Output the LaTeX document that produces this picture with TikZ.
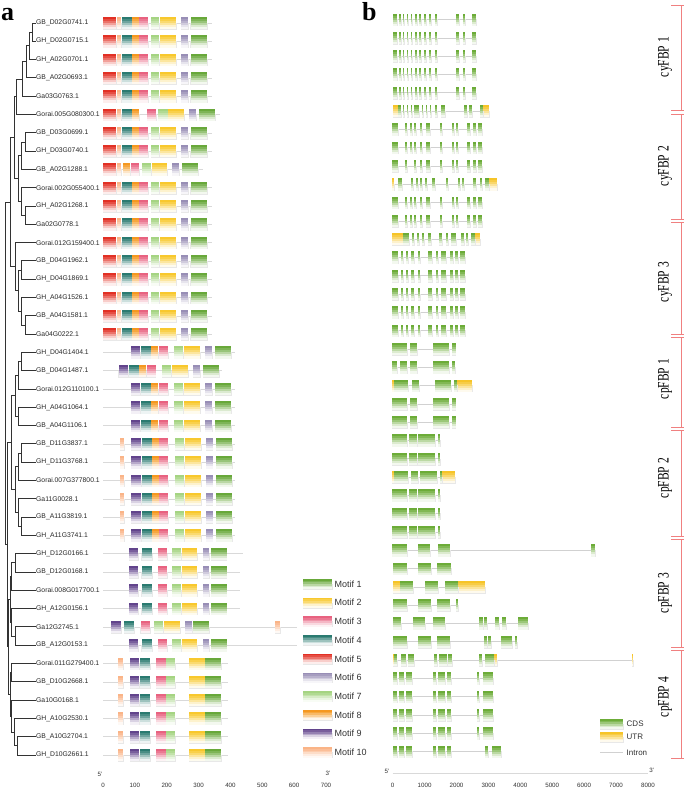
\documentclass[tikz,border=0pt]{standalone}
\usepackage{fontspec}
\setmainfont{Liberation Serif}
\setsansfont{Liberation Sans}
\usetikzlibrary{calc}
\definecolor{mgreen}{RGB}{104,168,58}
\definecolor{myellow}{RGB}{248,200,45}
\definecolor{mpink}{RGB}{232,98,128}
\definecolor{mteal}{RGB}{42,122,112}
\definecolor{mred}{RGB}{226,48,36}
\definecolor{mlav}{RGB}{152,142,182}
\definecolor{mlgreen}{RGB}{165,212,130}
\definecolor{morange}{RGB}{245,152,32}
\definecolor{mpurple}{RGB}{98,68,140}
\definecolor{mpeach}{RGB}{250,180,135}
\definecolor{cdsc}{RGB}{108,172,56}
\definecolor{utrc}{RGB}{246,196,40}
\definecolor{brk}{RGB}{240,128,128}

\newcommand\Ry[1]{(23+(#1-1)*18.3)}
% gradient block: x1, x2, ytop, height, colour
\newcommand\Grad[5]{\pgfmathsetmacro\gxa{#1}\pgfmathsetmacro\gxb{#2}\pgfmathsetmacro\gyt{#3}%
 \draw[blkedge] (\gxa,{\gyt+#4/2}) rectangle (\gxb,{\gyt+#4});%
 \foreach \gi/\gp in {0/100,1/86,2/68,3/46,4/24,5/8}{\fill[#5!\gp] (\gxa,{\gyt+\gi*#4/6}) rectangle (\gxb,{\gyt+(\gi+1)*#4/6+0.3});}}
\newcommand\Mblk[4]{\Grad{103+0.3186*#3}{103+0.3186*#4}{\Ry{#1}-6}{12}{#2}}
\newcommand\Mln[2]{\draw[rowline] (103,{\Ry{#1}}) -- ({103+0.3186*#2},{\Ry{#1}});}
\newcommand\RowA[1]{\Mln{#1}{341}\Mblk{#1}{mred}{0}{41}\Mblk{#1}{mpeach}{43}{58}\Mblk{#1}{mteal}{60}{90}\Mblk{#1}{morange}{91}{112}\Mblk{#1}{mpink}{113}{142}\Mblk{#1}{mlgreen}{150}{177}\Mblk{#1}{myellow}{179}{229}\Mblk{#1}{mlav}{245}{266}\Mblk{#1}{mgreen}{275}{327}}
\newcommand\RowB[1]{\Mln{#1}{414}\Mblk{#1}{mpurple}{87}{116}\Mblk{#1}{mteal}{119}{151}\Mblk{#1}{morange}{152}{174}\Mblk{#1}{mpink}{175}{203}\Mblk{#1}{mlgreen}{224}{252}\Mblk{#1}{myellow}{254}{304}\Mblk{#1}{mlav}{320}{342}\Mblk{#1}{mgreen}{351}{402}}
\newcommand\RowC[1]{\Mln{#1}{414}\Mblk{#1}{mpeach}{53}{67}\Mblk{#1}{mpurple}{89}{118}\Mblk{#1}{mteal}{121}{153}\Mblk{#1}{morange}{154}{175}\Mblk{#1}{mpink}{176}{205}\Mblk{#1}{mlgreen}{227}{255}\Mblk{#1}{myellow}{256}{307}\Mblk{#1}{mlav}{323}{344}\Mblk{#1}{mgreen}{355}{405}}
\newcommand\RowD[2]{\Mln{#1}{#2}\Mblk{#1}{mpurple}{81}{110}\Mblk{#1}{mteal}{121}{153}\Mblk{#1}{mpink}{174}{202}\Mblk{#1}{mlgreen}{216}{245}\Mblk{#1}{myellow}{247}{295}\Mblk{#1}{mlav}{313}{334}\Mblk{#1}{mgreen}{338}{388}}
\newcommand\RowE[1]{\Mln{#1}{393}\Mblk{#1}{mpeach}{48}{63}\Mblk{#1}{mpurple}{85}{114}\Mblk{#1}{mteal}{115}{147}\Mblk{#1}{mpink}{167}{197}\Mblk{#1}{mlgreen}{198}{226}\Mblk{#1}{myellow}{270}{320}\Mblk{#1}{mgreen}{321}{370}}

\newcommand\GexL[3]{\draw[intron] (#2,{\Ry{#1}-3.5}) -- (#3,{\Ry{#1}-3.5});}
\newcommand\GexB[2]{\foreach \xa/\xb in #2 {\Grad{\xa}{\xb}{\Ry{#1}-9.5}{12}{cdsc}}}
\newcommand\GexU[2]{\foreach \xa/\xb in #2 {\Grad{\xa}{\xb}{\Ry{#1}-9.5}{12}{utrc}}}
\def\cyA{392.7/397.3,399.3/400.7,402.7/404,406.7/408,410.7/412,414.7/416.7,419.3/421.3,424/426,429.3/430.7,435/437.3,456/458.7,462.7/465.3,471.7/476}
\def\cyB{392.3/397.7,405/407,410/411.7,414.3/416.3,419.7/421.7,425.7/429.7,439.7/442.3,451.7/453.7,456.3/458.3,467.3/469.7,473/475.7,478.3/482.3}
\def\cyC{392.3/397.7,401/403,405.7/408.3,411/413.7,417.7/420.3,428.3/432.3,435.7/438.3,441/445.7,450/452.7,455/457.7,460.3/465}
\def\cpA{392.3/406.7,410/417.3,433.3/449.3,452.3/455.5}
\def\cpB{392.3/406.7,409/416.7,418.3/435,437.7/440.3}
\def\cpD{392.7/396.7,399.3/404,406/412.3,432.7/436,437.7/445.3,447.3/450.7,476.7/479.3,483.3/492.7}

\newcommand\Tj[4]{\path let \p1=(#3), \p2=(#4) in (#2pt,{0.5*\y1+0.5*\y2}) coordinate (#1);\draw[tree] (#1) |- (#3);\draw[tree] (#1) |- (#4);}

\tikzset{
  tree/.style={draw=black!80, line width=0.9pt},
  lab/.style={font=\sffamily\fontsize{6.8}{7}\selectfont, anchor=west, inner sep=0.5pt, text=black!85},
  blkedge/.style={draw=black!9, line width=0.25pt},
  rowline/.style={draw=black!15, line width=0.6pt},
  intron/.style={draw=black!18, line width=0.6pt},
  axtxt/.style={font=\sffamily\fontsize{6.2}{7}\selectfont, text=black!80, inner sep=0.5pt},
  legtxt/.style={font=\sffamily\fontsize{9}{10}\selectfont, anchor=west, inner sep=0.5pt, text=black!80},
  legtxtb/.style={font=\sffamily\fontsize{8}{9}\selectfont, anchor=west, inner sep=0.5pt, text=black!80},
  grplab/.style={rotate=90, font=\fontsize{16}{16}\selectfont, inner sep=0},
  brkline/.style={draw=brk, line width=0.6pt},
  plab/.style={anchor=base west, inner sep=0, font=\bfseries\fontsize{26}{26}\selectfont}
}

\begin{document}
\begin{tikzpicture}[x=1pt,y=-1pt]
\fill[white] (0,0) rectangle (685,790);
\useasboundingbox (0,0) rectangle (685,790);

\node[plab] (pa) at (1,20) {a};
\node[plab] (pb) at (362,20) {b};

% gene labels
\foreach \n/\t in {1/GB\_D02G0741.1,2/GH\_D02G0715.1,3/GH\_A02G0701.1,4/GB\_A02G0693.1,5/Ga03G0763.1,6/Gorai.005G080300.1,7/GB\_D03G0699.1,8/GH\_D03G0740.1,9/GB\_A02G1288.1,10/Gorai.002G055400.1,11/GH\_A02G1268.1,12/Ga02G0778.1,13/Gorai.012G159400.1,14/GB\_D04G1962.1,15/GH\_D04G1869.1,16/GH\_A04G1526.1,17/GB\_A04G1581.1,18/Ga04G0222.1,19/GH\_D04G1404.1,20/GB\_D04G1487.1,21/Gorai.012G110100.1,22/GH\_A04G1064.1,23/GB\_A04G1106.1,24/GB\_D11G3837.1,25/GH\_D11G3768.1,26/Gorai.007G377800.1,27/Ga11G0028.1,28/GB\_A11G3819.1,29/GH\_A11G3741.1,30/GH\_D12G0166.1,31/GB\_D12G0168.1,32/Gorai.008G017700.1,33/GH\_A12G0156.1,34/Ga12G2745.1,35/GB\_A12G0153.1,36/Gorai.011G279400.1,37/GB\_D10G2668.1,38/Ga10G0168.1,39/GH\_A10G2530.1,40/GB\_A10G2704.1,41/GH\_D10G2661.1}
  {\node[lab] (N\n) at (35.5,{\Ry{\n}}) {\t};}

% tree
\Tj{a1}{32.5}{N1.west}{N2.west}
\Tj{a2}{29.5}{a1}{N3.west}
\Tj{a3}{26.5}{a2}{N4.west}
\Tj{a4}{22}{a3}{N5.west}
\Tj{a5}{16.7}{a4}{N6.west}
\Tj{b1}{25}{N7.west}{N8.west}
\Tj{b2}{21.7}{b1}{N9.west}
\Tj{b3}{25}{N11.west}{N12.west}
\Tj{b4}{21.7}{N10.west}{b3}
\Tj{b5}{18.3}{b2}{b4}
\Tj{c1}{14}{a5}{b5}
\Tj{d1}{21.7}{N14.west}{N15.west}
\Tj{d2}{25}{N17.west}{N18.west}
\Tj{d3}{21.7}{N16.west}{d2}
\Tj{d4}{18.3}{d1}{d3}
\Tj{d5}{15}{N13.west}{d4}
\Tj{cy}{10.7}{c1}{d5}
\Tj{e1}{21.7}{N19.west}{N20.west}
\Tj{e2}{18.3}{e1}{N21.west}
\Tj{e3}{18.3}{N22.west}{N23.west}
\Tj{e4}{15}{e2}{e3}
\Tj{f1}{21.7}{N24.west}{N25.west}
\Tj{f2}{18.3}{f1}{N26.west}
\Tj{f3}{21.7}{N28.west}{N29.west}
\Tj{f4}{18.3}{N27.west}{f3}
\Tj{f5}{15}{f2}{f4}
\Tj{cpa}{11.7}{e4}{f5}
\Tj{g1}{15}{N30.west}{N31.west}
\Tj{g2}{11.7}{g1}{N32.west}
\Tj{g3}{15}{N34.west}{N35.west}
\Tj{g4}{11.7}{N33.west}{g3}
\Tj{g5}{10}{g2}{g4}
\Tj{h1}{11.7}{N36.west}{N37.west}
\Tj{h2}{17}{N40.west}{N41.west}
\Tj{h3}{14}{N39.west}{h2}
\Tj{h4}{11.7}{N38.west}{h3}
\Tj{h5}{10}{h1}{h4}
\Tj{cpb}{8}{g5}{h5}
\Tj{cp}{7}{cpa}{cpb}
\Tj{root}{5}{cy}{cp}

% motifs
\foreach \r in {1,2,3,4,5,7,8,10,11,12,13,14,15,16,17,18} {\RowA{\r}}
\Mln{6}{367}\Mblk{6}{mred}{0}{41}\Mblk{6}{mpeach}{43}{58}\Mblk{6}{mteal}{60}{90}\Mblk{6}{morange}{91}{112}\Mblk{6}{mpink}{138}{166}\Mblk{6}{mlgreen}{174}{203}\Mblk{6}{myellow}{205}{254}\Mblk{6}{mlav}{270}{292}\Mblk{6}{mgreen}{301}{352}
\Mln{9}{313}\Mblk{9}{mred}{0}{41}\Mblk{9}{mpeach}{44}{56}\Mblk{9}{morange}{64}{85}\Mblk{9}{mpink}{87}{114}\Mblk{9}{mlgreen}{123}{151}\Mblk{9}{myellow}{153}{202}\Mblk{9}{mlav}{218}{240}\Mblk{9}{mgreen}{249}{299}
\foreach \r in {19,21,22,23} {\RowB{\r}}
\Mln{20}{374}\Mblk{20}{mpurple}{49}{78}\Mblk{20}{mteal}{82}{113}\Mblk{20}{morange}{114}{135}\Mblk{20}{mpink}{137}{165}\Mblk{20}{mlgreen}{186}{214}\Mblk{20}{myellow}{217}{266}\Mblk{20}{mlav}{283}{304}\Mblk{20}{mgreen}{314}{364}
\foreach \r in {24,...,29} {\RowC{\r}}
\RowD{30}{440}\RowD{31}{430}\RowD{32}{430}\RowD{33}{430}\RowD{35}{608}
\Mln{34}{608}\Mblk{34}{mpurple}{25}{56}\Mblk{34}{mteal}{66}{98}\Mblk{34}{mpink}{118}{148}\Mblk{34}{mlgreen}{161}{189}\Mblk{34}{myellow}{191}{242}\Mblk{34}{mlav}{258}{280}\Mblk{34}{mgreen}{284}{334}\Mblk{34}{mpeach}{541}{557}
\foreach \r in {36,...,41} {\RowE{\r}}

% motif legend
\foreach \k/\c in {1/mgreen,2/myellow,3/mpink,4/mteal,5/mred,6/mlav,7/mlgreen,8/morange,9/mpurple,10/mpeach}
 {\Grad{303}{331.7}{584+(\k-1)*18.7-5}{10}{\c}
  \node[legtxt] (lm\k) at (334,{584+(\k-1)*18.7}) {Motif \k};}

% motif axis
\node[axtxt] (a5p) at (100,774) {5'};
\node[axtxt] (a3p) at (328,773) {3'};
\foreach \v in {0,100,...,700} {\node[axtxt] (ta\v) at ({103+0.3186*\v},785) {\v};}

% gene structures
\foreach \r in {1,...,5} {\GexL{\r}{392.7}{476}\GexB{\r}{\cyA}}
\GexL{6}{392.7}{489.3}\GexU{6}{{392.7/398.3,483.3/489.3}}\GexB{6}{{398.3/400.7,403/404.3,406.7/408,410.7/412,414/419,421.7/423,426/427.3,430/431.3,435/437,441/445,464/467.3,469.3/472,480/483.3}}
\foreach \r in {7,8,11,12} {\GexL{\r}{392.3}{482.3}\GexB{\r}{\cyB}}
\GexL{9}{392.3}{482.3}\GexB{9}{{392.3/397.7,405/407,414.3/416.3,419.7/421.7,425.7/429.7,439.7/442.3,451.7/453.7,456.3/458.3,467.3/469.7,473/475.7,478.3/482.3}}
\GexL{10}{392.3}{496.7}\GexU{10}{{392.3/394.3,489/496.7}}\GexB{10}{{397.7/402.3,411/413,415.7/417.7,420.3/422.3,425/427,431.7/435,445.7/448.3,457.7/459.7,462.3/464.3,473.3/475.7,480/482.3,485/489}}
\GexL{13}{392.3}{480}\GexU{13}{{392.3/403.3,475/480}}\GexB{13}{{403.3/409,412.3/414.3,417/419,422.3/424.3,428.3/431,439/442.3,445.7/448.3,451/455.7,461/463.7,466/468.3,471/475}}
\foreach \r in {14,...,18} {\GexL{\r}{392.3}{465}\GexB{\r}{\cyC}}
\foreach \r in {19,22,23} {\GexL{\r}{392.3}{455.5}\GexB{\r}{\cpA}}
\GexL{20}{392.3}{455}\GexB{20}{{392.3/397,400.3/406.7,410/417.3,433.3/449.3,452.3/455}}
\GexL{21}{392.3}{471.7}\GexU{21}{{392.3/394,456.7/471.7}}\GexB{21}{{394/408.3,411.7/419,435/451,454.3/456.7}}
\foreach \r in {24,25,27,28,29} {\GexL{\r}{392.3}{440.3}\GexB{\r}{\cpB}}
\GexL{26}{392.3}{455}\GexU{26}{{392.3/394,442.3/455}}\GexB{26}{{394/408.3,411/418.3,420.3/437,440/442.3}}
\GexL{30}{392.3}{595}\GexB{30}{{392.3/406.7,417.7/430.3,437.7/450.3,591/595}}
\GexL{31}{392.7}{450.7}\GexB{31}{{392.7/406.7,417.7/430.7,437.3/450.7}}
\GexL{32}{392.7}{485}\GexU{32}{{392.7/400,458.3/485}}\GexB{32}{{400/413.3,425/438.3,445/458.3}}
\GexL{33}{392.7}{458.3}\GexB{33}{{392.7/406.7,417.7/430.7,437.3/450,456/458.3}}
\GexL{34}{392.7}{528.3}\GexB{34}{{392.7/400.7,412.7/425,432.7/445,479.3/483.3,484/486.7,495.3/499.3,502/506,518.3/528.3}}
\GexL{35}{392.7}{516.7}\GexB{35}{{392.7/406.7,417.7/430.7,437.3/450,484/486.7,488.3/490.7,500.7/511.7,515/516.7}}
\GexL{36}{392.7}{633}\GexU{36}{{392.7/394,494/496.7,631.7/633}}\GexB{36}{{394/396.7,401/405.7,407.7/414,434/437.3,439/446.7,448.3/452.3,479.3/481.7,485/494}}
\foreach \r in {37,...,40} {\GexL{\r}{392.7}{492.7}\GexB{\r}{\cpD}}
\GexL{41}{392.7}{500.7}\GexB{41}{{392.7/396.7,399.3/404,406/412.3,432.7/436,437.7/445.3,447.3/450.7,485.3/488,491.7/500.7}}

% gene legend
\Grad{600}{623.3}{719}{10}{cdsc}
\node[legtxtb] (lcds) at (626,724) {CDS};
\Grad{600}{623.3}{732}{10}{utrc}
\node[legtxtb] (lutr) at (626,737) {UTR};
\draw[intron] (600,752.7) -- (623.3,752.7);
\node[legtxtb] (lint) at (626,752.7) {Intron};

% gene axis
\draw[draw=black!15, line width=0.5pt] (392.7,773) -- (648,773);
\node[axtxt] (b5p) at (387,771) {5'};
\node[axtxt] (b3p) at (651.7,770) {3'};
\foreach \v in {0,1000,...,8000} {\node[axtxt] (tb\v) at ({392.7+0.0319*\v},785) {\v};}

% group brackets
\foreach \ta/\tb in {5/110,114/219,222/334,337/427,430/536,539/647,650/758}
 {\draw[brkline] (671,\ta) -- (684,\ta); \draw[brkline] (681.5,\ta) -- (681.5,\tb); \draw[brkline] (671,\tb) -- (684,\tb);}
\node[grplab] (g1) at (665,57) {\scalebox{0.72}[1]{cyFBP 1}};
\node[grplab] (g2) at (665,166) {\scalebox{0.72}[1]{cyFBP 2}};
\node[grplab] (g3) at (665,282) {\scalebox{0.72}[1]{cyFBP 3}};
\node[grplab] (g4) at (665,379) {\scalebox{0.72}[1]{cpFBP 1}};
\node[grplab] (g5) at (665,478) {\scalebox{0.72}[1]{cpFBP 2}};
\node[grplab] (g6) at (665,593) {\scalebox{0.72}[1]{cpFBP 3}};
\node[grplab] (g7) at (665,697) {\scalebox{0.72}[1]{cpFBP 4}};
\end{tikzpicture}
\end{document}
